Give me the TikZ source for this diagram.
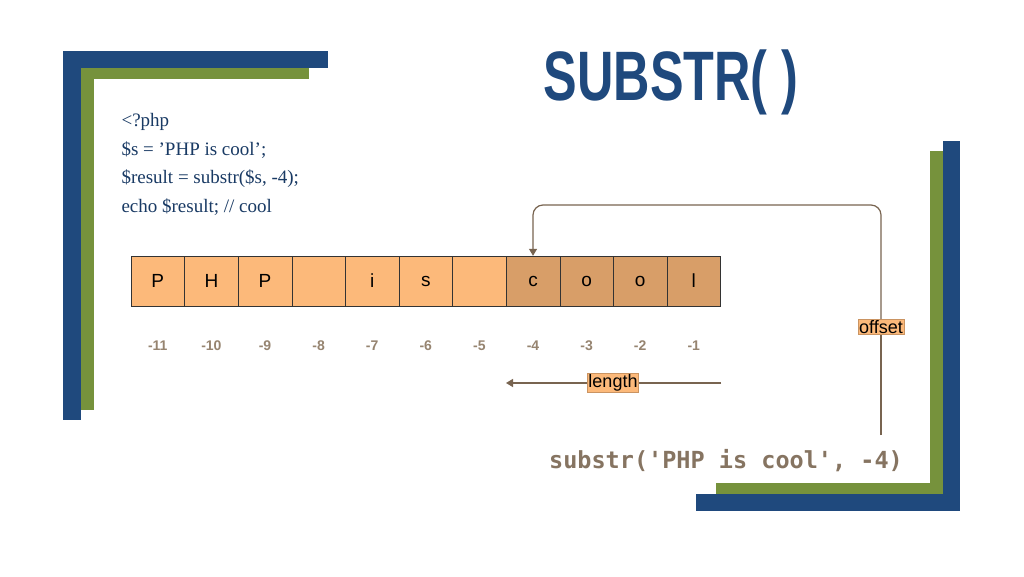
\documentclass[tikz,border=0pt]{standalone}
\usepackage{fontspec}
\setsansfont{Liberation Sans}
\setmainfont{Liberation Serif}
\setmonofont{DejaVu Sans Mono}
\usetikzlibrary{positioning,arrows.meta}
\definecolor{frameblue}{RGB}{31,73,125}
\definecolor{framegreen}{RGB}{118,146,60}
\definecolor{cellfill}{RGB}{252,185,122}
\definecolor{celldark}{RGB}{216,158,104}
\definecolor{arrowgrey}{RGB}{120,100,80}
\definecolor{numgrey}{RGB}{150,132,112}
\tikzset{
  cellbox/.style={draw=black!80,fill=cellfill,minimum width=53.6pt,minimum height=50pt,inner sep=0pt,font=\sffamily\fontsize{19}{19}\selectfont},
  darkcell/.style={cellbox,fill=celldark},
  numlbl/.style={font=\sffamily\bfseries\fontsize{14}{14}\selectfont,text=numgrey},
  tagbox/.style={fill=cellfill,draw=cellfill!80!black,line width=0.4pt,inner sep=1pt,font=\sffamily\fontsize{18}{18}\selectfont},
  connector/.style={draw=arrowgrey,line width=1.2pt}
}
\begin{document}
\begin{tikzpicture}[x=1pt,y=1pt,yscale=-1]
	\useasboundingbox[fill=white] (0,0) rectangle (1024,576);

	% frames
	\fill[frameblue] (63,51) rectangle (328,68);
	\fill[frameblue] (63,51) rectangle (81,420);
	\fill[framegreen] (81,68) rectangle (309,79);
	\fill[framegreen] (81,68) rectangle (94,410);
	\fill[frameblue] (943,141) rectangle (960,511);
	\fill[frameblue] (696,494) rectangle (960,511);
	\fill[framegreen] (930,151) rectangle (943,494);
	\fill[framegreen] (716,483) rectangle (943,494);

	% title
	\node[text=frameblue,font=\sffamily\bfseries\fontsize{70}{70}\selectfont,xscale=0.72] (title) at (671,82) {SUBSTR( )};

	% code
	\node[anchor=north west,align=left,text=frameblue!80!black,font=\rmfamily\fontsize{19}{28.5}\selectfont] (code) at (118,110)
	  {<?php\\\$s = 'PHP is cool';\\\$result = substr(\$s, -4);\\echo \$result; // cool};

	% cells
	\foreach \ch [count=\i] in {P,H,P,{},i,s,{}} {
	  \node[cellbox] (c\i) at ({131+26.8+(\i-1)*53.6},281) {\ch};
	}
	\foreach \ch [count=\i from 8] in {c,o,o,l} {
	  \node[darkcell] (c\i) at ({131+26.8+(\i-1)*53.6},281) {\ch};
	}
	\foreach \n [count=\i] in {-11,-10,-9,-8,-7,-6,-5,-4,-3,-2,-1} {
	  \node[numlbl] (n\i) at ({131+26.8+(\i-1)*53.6},346) {\n};
	}

	% length
	\coordinate (lenR) at (721,383);
	\coordinate (lenL) at (506,383);
	\node[tagbox] (len) at (613,383) {length};
	\draw[connector] (lenR) -- (len);
	\draw[connector,-{Triangle[width=8pt,length=7pt]}] (len) -- (lenL);

	% offset
	\node[font=\ttfamily\bfseries\fontsize{23.5}{23.5}\selectfont,text=arrowgrey!90] (call) at (726,461) {substr('PHP is cool', -4)};
	\coordinate (offB) at (881,435);
	\node[tagbox] (off) at (881,327) {offset};
	\draw[connector] (offB) -- (off);
	\draw[connector,rounded corners=10pt,-{Triangle[width=8pt,length=7pt]}] (off) -- (881,205) -- (533,205) -- (c8.north);
\end{tikzpicture}
\end{document}
